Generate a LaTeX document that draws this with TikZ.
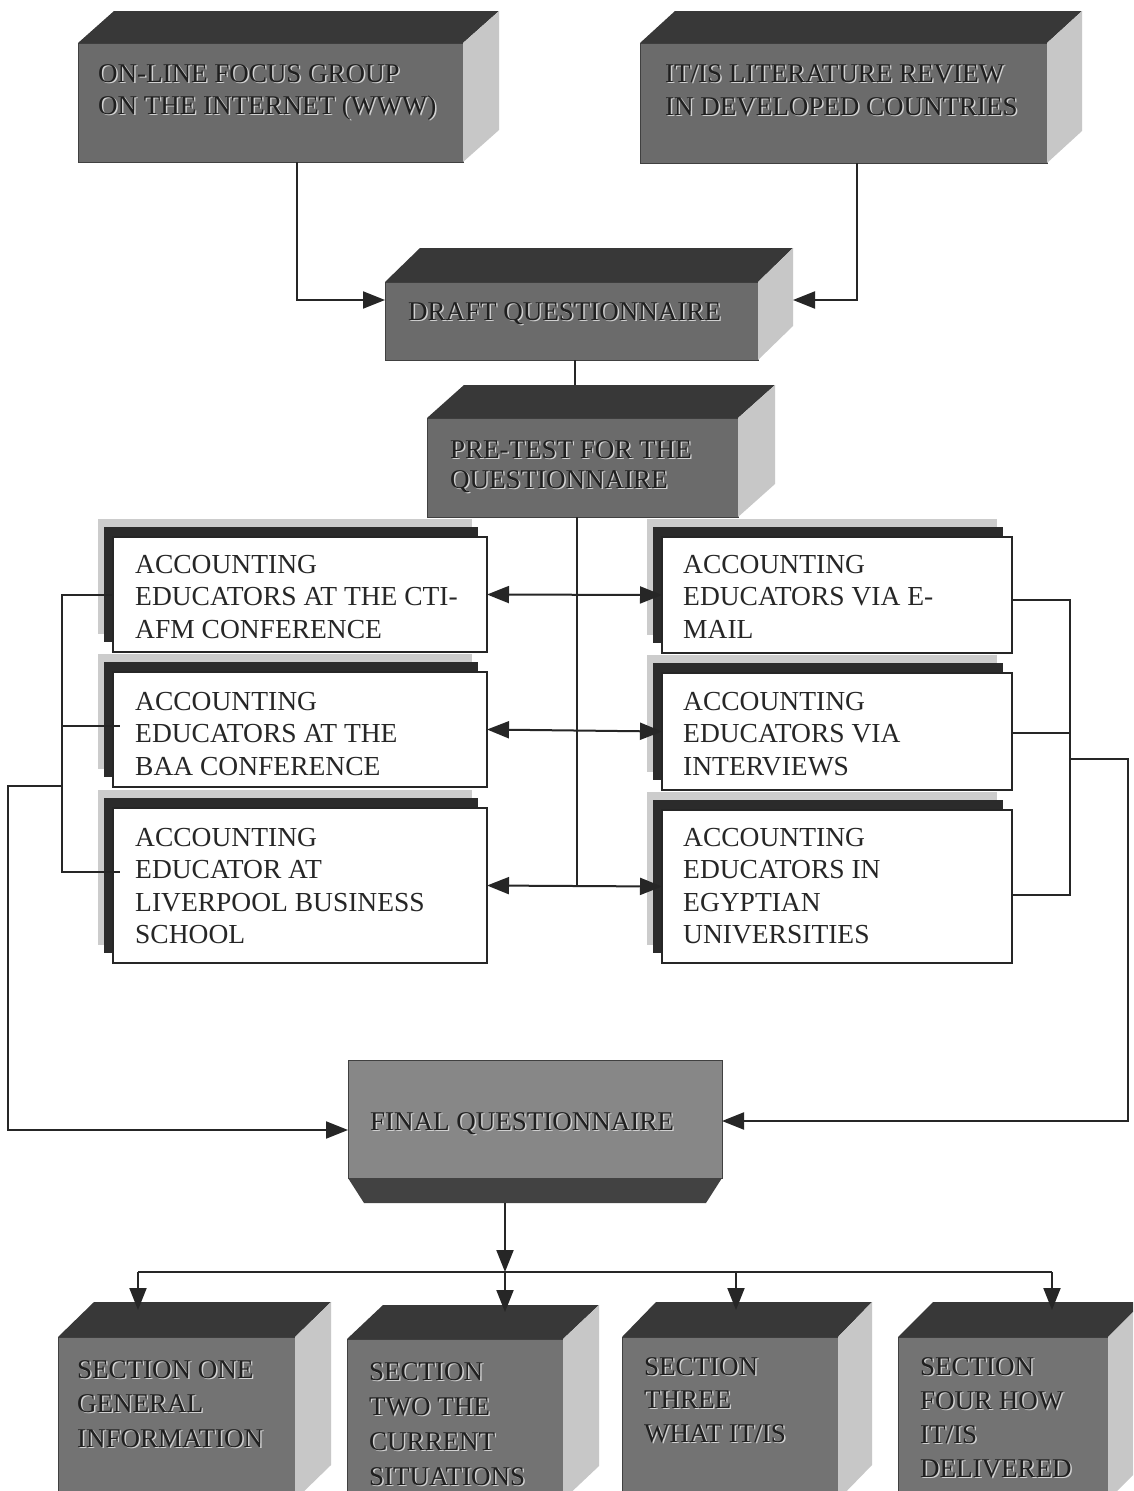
\documentclass[tikz,border=0pt]{standalone}
\usepackage{fontspec}
\setmainfont{Liberation Serif}
\usetikzlibrary{arrows.meta,calc}

\definecolor{facemid}{gray}{0.42}
\definecolor{facesec}{gray}{0.45}
\definecolor{facefinal}{gray}{0.53}
\definecolor{facetop}{gray}{0.22}
\definecolor{faceside}{gray}{0.78}
\definecolor{facebottom}{gray}{0.26}
\definecolor{embdark}{gray}{0.12}
\definecolor{embhigh}{gray}{0.82}
\definecolor{shadedark}{gray}{0.17}
\definecolor{shadelight}{gray}{0.80}

\tikzset{
  cubefront/.style={fill=#1, draw=black!75, line width=0.8pt, inner sep=0pt, outer sep=0pt},
  cubetop/.style={fill=facetop},
  cubeside/.style={fill=faceside},
  embtx/.style={anchor=base west, inner sep=0pt, text=embdark, font=\fontsize{27}{31}\selectfont},
  embhi/.style={anchor=base west, inner sep=0pt, text=embhigh, font=\fontsize{27}{31}\selectfont},
  plaintx/.style={anchor=base west, inner sep=0pt, text=black!85, font=\fontsize{27.5}{32}\selectfont},
  wbox/.style={fill=white, draw=black!85, line width=2.2pt, inner sep=0pt, outer sep=0pt},
  conn/.style={line width=2pt, draw=black!85},
  arrowend/.style={-{Triangle[length=22pt,width=17pt]}},
  twoway/.style={{Triangle[length=22pt,width=17pt]}-{Triangle[length=22pt,width=17pt]}}
}

% solid block: name, x1, y1, x2, y2 of the front face, depth dx, dy, front colour
\newcommand{\solidbox}[8]{%
  \node[cubefront=#8, minimum width={#4-#2}, minimum height={#5-#3}, anchor=north west] (#1) at (#2,#3) {};
  \fill[cubetop] (#1.north west) -- ++(#6,-#7) -- ++({#4-#2},0) -- (#1.north east) -- cycle;
  \fill[cubeside] (#1.north east) -- ++(#6,-#7) -- ++(0,{#5-#3}) -- (#1.south east) -- cycle;
}

% embossed lines of text: name, x, first baseline, line skip, lines
\newcommand{\embossed}[5]{%
  \foreach \ln [count=\i from 0] in {#5} {
    \node[embhi] (#1-h\i) at ({#2+1.4},{#3+#4*\i+1.4}) {\ln};
    \node[embtx] (#1-\i) at ({#2},{#3+#4*\i}) {\ln};
  }
}

% plain lines of text: name, x, first baseline, line skip, lines
\newcommand{\plainlines}[5]{%
  \foreach \ln [count=\i from 0] in {#5} {
    \node[plaintx] (#1-\i) at ({#2},{#3+#4*\i}) {\ln};
  }
}

% white box with stepped shadow: name, x1, y1, x2, y2
\newcommand{\shadowbox}[5]{%
  \fill[shadelight] ({#2-15},{#3-18}) rectangle ({#4-15},{#5-18});
  \fill[shadedark] ({#2-9},{#3-10}) rectangle ({#4-9},{#5-10});
  \node[wbox, minimum width={#4-#2}, minimum height={#5-#3}, anchor=north west] (#1) at (#2,#3) {};
}

\begin{document}
\begin{tikzpicture}[x=1pt,y=-1pt]
\useasboundingbox (0,0) rectangle (1133,1491);
\clip (0,0) rectangle (1133,1491);
\fill[white] (0,0) rectangle (1133,1491);

% sources
\solidbox{focus}{78}{43}{463}{162}{36}{32}{facemid}
\embossed{focustext}{98}{82}{32}{{ON-LINE FOCUS GROUP},{ON THE INTERNET (WWW)}}
\solidbox{lit}{640}{43}{1047}{163}{35}{32}{facemid}
\embossed{littext}{665}{82}{33}{{IT/IS LITERATURE REVIEW},{IN DEVELOPED COUNTRIES}}

% draft and pre-test
\solidbox{draft}{385}{282}{758}{360}{35}{34}{facemid}
\embossed{drafttext}{408}{320}{30}{{DRAFT QUESTIONNAIRE}}
\solidbox{pretest}{427}{418}{738}{517}{37}{33}{facemid}
\embossed{pretesttext}{450}{458}{30}{{PRE-TEST FOR THE},{QUESTIONNAIRE}}

% groups of accounting educators
\shadowbox{lb1}{113}{537}{487}{652}
\plainlines{lb1text}{135}{573}{32.5}{{ACCOUNTING},{EDUCATORS AT THE CTI-},{AFM CONFERENCE}}
\shadowbox{lb2}{113}{672}{487}{787}
\plainlines{lb2text}{135}{710}{32.5}{{ACCOUNTING},{EDUCATORS AT THE},{BAA CONFERENCE}}
\shadowbox{lb3}{113}{808}{487}{963}
\plainlines{lb3text}{135}{846}{32.5}{{ACCOUNTING},{EDUCATOR AT},{LIVERPOOL BUSINESS},{SCHOOL}}
\shadowbox{rb1}{662}{537}{1012}{653}
\plainlines{rb1text}{683}{573}{32.5}{{ACCOUNTING},{EDUCATORS VIA E-},{MAIL}}
\shadowbox{rb2}{662}{673}{1012}{790}
\plainlines{rb2text}{683}{710}{32.5}{{ACCOUNTING},{EDUCATORS VIA},{INTERVIEWS}}
\shadowbox{rb3}{662}{810}{1012}{963}
\plainlines{rb3text}{683}{846}{32.5}{{ACCOUNTING},{EDUCATORS IN},{EGYPTIAN},{UNIVERSITIES}}

% final questionnaire
\node[cubefront=facefinal, minimum width=374, minimum height=118, anchor=north west] (final) at (348,1060) {};
\fill[facebottom] (final.south west) -- ++(16,25) -- ++(342,0) -- (final.south east) -- cycle;
\embossed{finaltext}{370}{1130}{30}{{FINAL QUESTIONNAIRE}}

% sections of the questionnaire
\solidbox{sec1}{58}{1337}{295}{1500}{36}{35}{facesec}
\embossed{sec1text}{77}{1378}{34.5}{{SECTION ONE},{GENERAL},{INFORMATION}}
\solidbox{sec2}{347}{1339}{563}{1500}{36}{34}{facesec}
\embossed{sec2text}{369}{1380}{35}{{SECTION},{TWO THE},{CURRENT},{SITUATIONS}}
\solidbox{sec3}{622}{1337}{838}{1500}{34}{35}{facesec}
\embossed{sec3text}{644}{1375}{33.5}{{SECTION},{THREE},{WHAT IT/IS}}
\solidbox{sec4}{898}{1337}{1108}{1500}{35}{35}{facesec}
\embossed{sec4text}{920}{1375}{34}{{SECTION},{FOUR HOW},{IT/IS},{DELIVERED}}

% sources into the draft
\draw[conn,arrowend] ([xshift=26.5pt]focus.south) |- ([yshift=-18pt]draft.north west);
\draw[conn,arrowend] ([xshift=13.5pt]lit.south) |- ([xshift=35pt,yshift=-18pt]draft.north east);
\draw[conn] ([xshift=3.5pt]draft.south) -- ++(0,25);

% pre-test out to the educator groups
\draw[conn] ([xshift=-5.5pt]pretest.south) -- ([xshift=-5.5pt]pretest.south |- lb3.east);
\draw[conn,twoway] (lb1.east) -- (rb1.west);
\draw[conn,twoway] (lb2.east) -- (rb2.west);
\draw[conn,twoway] (lb3.east) -- (rb3.west);

% left collector
\coordinate (lj1) at (62,594.5);
\coordinate (lj2) at (62,726);
\coordinate (lj3) at (62,872);
\coordinate (lj4) at (62,786);
\draw[conn] (lb1.west) -- (lj1) -- (lj3) -- ([xshift=7pt]lj3 -| lb3.west);
\draw[conn] (lj2) -- ([xshift=7pt]lj2 -| lb2.west);
\draw[conn,arrowend] (lj4) -- ++(-54,0) |- ([yshift=-11pt]final.west);

% right collector
\coordinate (rj1) at (1070,600);
\coordinate (rj2) at (1070,733);
\coordinate (rj3) at (1070,895);
\coordinate (rj4) at (1070,759);
\draw[conn] (rj1 -| rb1.east) -- (rj1) -- (rj3) -- (rj3 -| rb3.east);
\draw[conn] (rj2 -| rb2.east) -- (rj2);
\draw[conn,arrowend] (rj4) -- ++(58,0) |- ([yshift=-2pt]final.east);

% final questionnaire split into its sections
\coordinate (d1) at (138,1272);
\coordinate (d2) at (505,1272);
\coordinate (d3) at (736,1272);
\coordinate (d4) at (1052,1272);
\draw[conn,arrowend] ([xshift=-30pt,yshift=-25pt]final.south) -- (d2);
\draw[conn] (d1) -- (d4);
\draw[conn,arrowend] (d1) -- ([yshift=27pt]d1 |- sec1.north);
\draw[conn,arrowend] (d2) -- ([yshift=27pt]d2 |- sec2.north);
\draw[conn,arrowend] (d3) -- ([yshift=27pt]d3 |- sec3.north);
\draw[conn,arrowend] (d4) -- ([yshift=27pt]d4 |- sec4.north);
\end{tikzpicture}
\end{document}
